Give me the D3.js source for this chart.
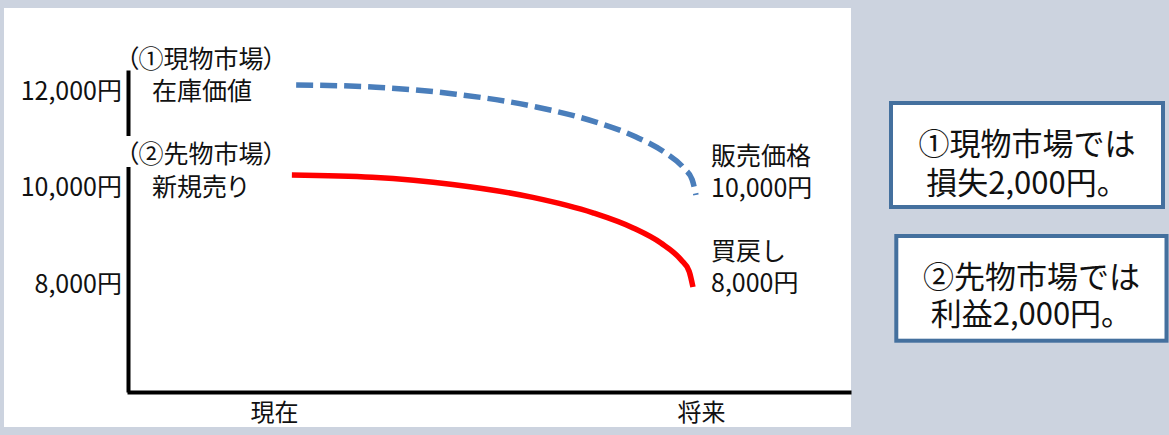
<!DOCTYPE html>
<html>
<head>
<meta charset="utf-8">
<script src="https://cdn.jsdelivr.net/npm/d3@7/dist/d3.min.js"></script>
<style>
  html, body { margin: 0; padding: 0; background: #ccd3df; }
  svg { display: block; }
  text { font-family: "Noto Sans CJK JP", "Noto Sans", sans-serif; fill: #111; }
  .palt { font-feature-settings: "palt" 1; }
</style>
</head>
<body>
<svg id="chart" width="1169" height="435"></svg>
<script>
// ---- data ----
const yTicks = [8000, 10000, 12000];
const xCats = ["現在", "将来"];
const xCatPos = [0, 1];
// ① spot market (inventory value -> selling price)
const spotT = [0.052, 0.239, 0.426, 0.614, 0.754, 0.848, 0.913, 0.960, 0.979, 0.988];
const spotV = [12073, 12027, 11882, 11617, 11302, 10995, 10686, 10346, 10114, 9793];
// ② futures market (new sell -> buy back)
const futT = [0.042, 0.230, 0.418, 0.606, 0.747, 0.841, 0.906, 0.953, 0.972, 0.981];
const futV = [10207, 10160, 10012, 9743, 9422, 9109, 8796, 8449, 8213, 7886];
const leftLabels = ["（①現物市場）", "在庫価値", "（②先物市場）", "新規売り"];
const rightLabels = ["販売価格", "10,000円", "買戻し", "8,000円"];
const boxTexts = [["①現物市場では", "損失2,000円。"], ["②先物市場では", "利益2,000円。"]];

// ---- drawing ----
const svg = d3.select("#chart");
svg.append("rect").attr("x", 4).attr("y", 8).attr("width", 847).attr("height", 419).attr("fill", "#fff");

const x = d3.scaleLinear().domain([-0.344, 1.351]).range([127, 851]);
const y = d3.scaleLinear().domain([5710, 12383]).range([392, 70]);

// y axis
const yAxis = svg.append("g").attr("transform", "translate(128,0)")
  .call(d3.axisLeft(y).tickValues(yTicks).tickSize(0).tickPadding(6)
        .tickFormat(d => d3.format(",")(d) + "円"));
yAxis.select(".domain").attr("stroke", "#000").attr("stroke-width", 4);
yAxis.selectAll("text").style("font-size", "25px").attr("font-family", null)
  .attr("dy", null).attr("dominant-baseline", "central").attr("fill", "#111");

// x axis
const xAxis = svg.append("g").attr("transform", "translate(0,392)")
  .call(d3.axisBottom(x).tickValues(xCatPos).tickSize(0).tickSizeOuter(0)
        .tickFormat((d, i) => xCats[i]));
xAxis.select(".domain").attr("stroke", "#000").attr("stroke-width", 4);
xAxis.selectAll("text").style("font-size", "24px").attr("font-family", null)
  .attr("dy", null).attr("y", 18).attr("dominant-baseline", "central").attr("fill", "#111");

// lines
const line = d3.line().x(d => x(d[0])).y(d => y(d[1])).curve(d3.curveMonotoneX);
svg.append("path").datum(spotT.map((t, i) => [t, spotV[i]]))
  .attr("d", line).attr("fill", "none").attr("stroke", "#4a7ebb")
  .attr("stroke-width", 5.5).attr("stroke-dasharray", "17,7");
svg.append("path").datum(futT.map((t, i) => [t, futV[i]]))
  .attr("d", line).attr("fill", "none").attr("stroke", "#ff0000")
  .attr("stroke-width", 5.5);

// left labels
const leftPos = [[126, 57], [152, 89], [126, 152], [152, 185]];
leftLabels.forEach((s, i) => {
  if (i === 2) {
    svg.append("rect").attr("x", 122).attr("y", 136).attr("width", 160).attr("height", 31).attr("fill", "#fff");
  }
  svg.append("text").attr("x", leftPos[i][0]).attr("y", leftPos[i][1])
    .attr("class", "palt")
    .attr("dominant-baseline", "central").style("font-size", "25px").text(s);
});
// right labels
const rightPos = [[711, 154], [711, 186], [711, 249], [711, 281]];
rightLabels.forEach((s, i) => {
  svg.append("text").attr("x", rightPos[i][0]).attr("y", rightPos[i][1])
    .attr("dominant-baseline", "central").style("font-size", "25px").text(s);
});

// boxes
const boxes = [{x: 891, y: 103, w: 272, h: 104, l1: 141, l2: 180},
               {x: 896.3, y: 236, w: 270.2, h: 104.7, l1: 274, l2: 311}];
boxes.forEach((b, i) => {
  svg.append("rect").attr("x", b.x).attr("y", b.y).attr("width", b.w).attr("height", b.h)
    .attr("fill", "#fff").attr("stroke", "#44709e").attr("stroke-width", 4);
  [b.l1, b.l2].forEach((ly, j) => {
    svg.append("text").attr("x", b.x + b.w / 2).attr("y", ly)
      .attr("text-anchor", "middle").attr("dominant-baseline", "central")
      .style("font-size", "31px").text(boxTexts[i][j]);
  });
});
</script>
</body>
</html>
